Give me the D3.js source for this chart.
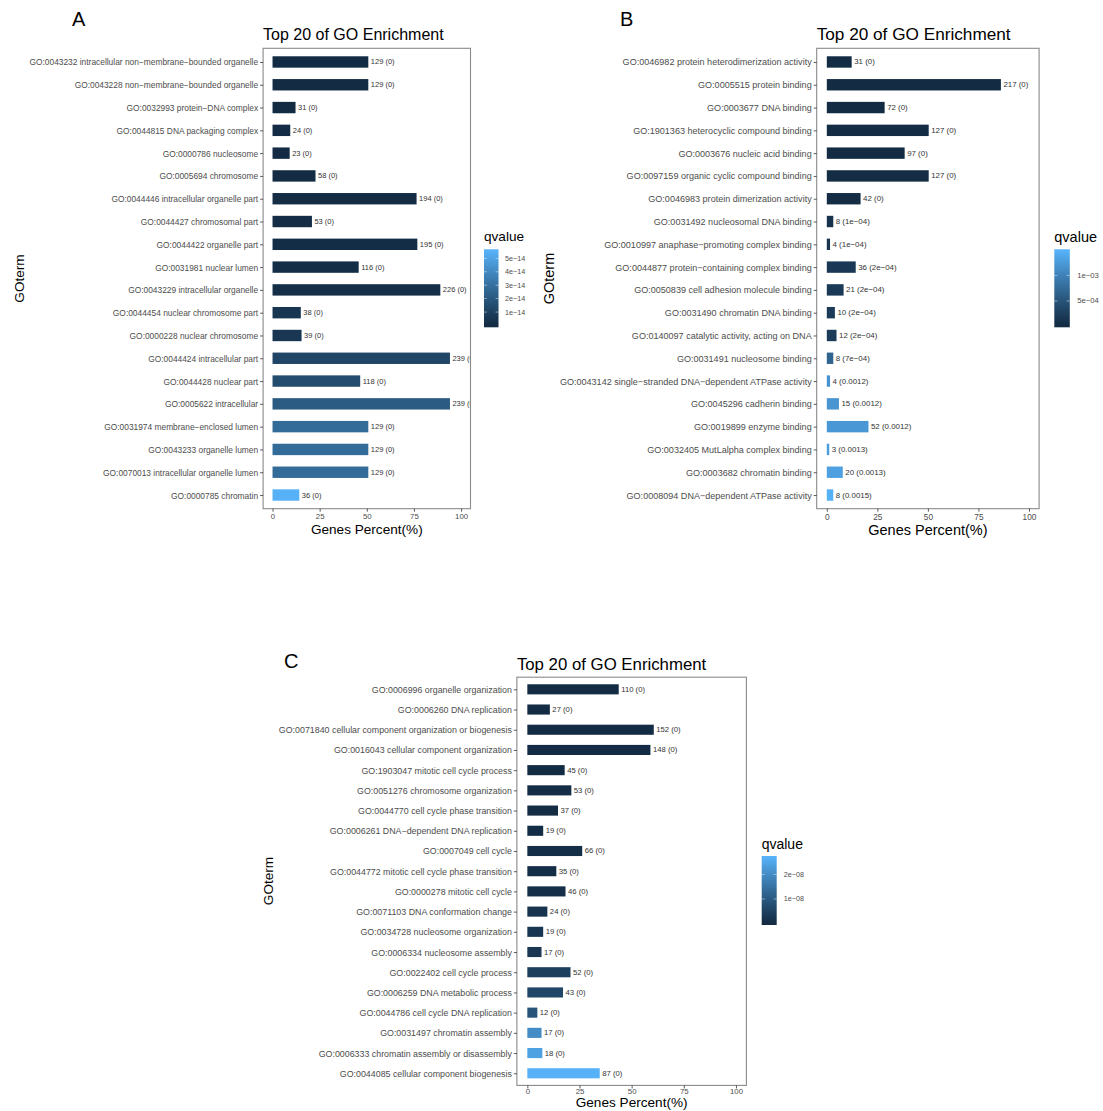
<!DOCTYPE html>
<html><head><meta charset="utf-8">
<script src="https://cdn.jsdelivr.net/npm/d3@7"></script>
<style>
body{margin:0;background:#fff}
svg{display:block}
text{font-family:"Liberation Sans",Arial,Helvetica,sans-serif}
</style>
</head><body>
<svg id="chart" width="1103" height="1111"></svg>
<script>
// ---------------- DATA ----------------
const termsA = [
 "GO:0043232 intracellular non\u2212membrane\u2212bounded organelle",
 "GO:0043228 non\u2212membrane\u2212bounded organelle",
 "GO:0032993 protein\u2212DNA complex",
 "GO:0044815 DNA packaging complex",
 "GO:0000786 nucleosome",
 "GO:0005694 chromosome",
 "GO:0044446 intracellular organelle part",
 "GO:0044427 chromosomal part",
 "GO:0044422 organelle part",
 "GO:0031981 nuclear lumen",
 "GO:0043229 intracellular organelle",
 "GO:0044454 nuclear chromosome part",
 "GO:0000228 nuclear chromosome",
 "GO:0044424 intracellular part",
 "GO:0044428 nuclear part",
 "GO:0005622 intracellular",
 "GO:0031974 membrane\u2212enclosed lumen",
 "GO:0043233 organelle lumen",
 "GO:0070013 intracellular organelle lumen",
 "GO:0000785 chromatin"
];
const countsA  = [129,129,31,24,23,58,194,53,195,116,226,38,39,239,118,239,129,129,129,36];
const percentA = [50.8,50.8,12.2,9.4,9.1,22.8,76.4,20.9,76.8,45.7,89.0,15.0,15.4,94.1,46.5,94.1,50.8,50.8,50.8,14.2];
const qvalueA  = [0.01e-14,0.01e-14,0.02e-14,0.03e-14,0.04e-14,0.05e-14,0.06e-14,0.08e-14,0.1e-14,0.15e-14,0.2e-14,0.5e-14,0.55e-14,1.2e-14,1.5e-14,2.1e-14,2.8e-14,2.8e-14,2.8e-14,5.53e-14];
const qlabelA  = ["0","0","0","0","0","0","0","0","0","0","0","0","0","0","0","0","0","0","0","0"];
const legendTicksA  = [1e-14,2e-14,3e-14,4e-14,5e-14];
const legendLabelsA = ["1e\u221214","2e\u221214","3e\u221214","4e\u221214","5e\u221214"];

const termsB = [
 "GO:0046982 protein heterodimerization activity",
 "GO:0005515 protein binding",
 "GO:0003677 DNA binding",
 "GO:1901363 heterocyclic compound binding",
 "GO:0003676 nucleic acid binding",
 "GO:0097159 organic cyclic compound binding",
 "GO:0046983 protein dimerization activity",
 "GO:0031492 nucleosomal DNA binding",
 "GO:0010997 anaphase\u2212promoting complex binding",
 "GO:0044877 protein\u2212containing complex binding",
 "GO:0050839 cell adhesion molecule binding",
 "GO:0031490 chromatin DNA binding",
 "GO:0140097 catalytic activity, acting on DNA",
 "GO:0031491 nucleosome binding",
 "GO:0043142 single\u2212stranded DNA\u2212dependent ATPase activity",
 "GO:0045296 cadherin binding",
 "GO:0019899 enzyme binding",
 "GO:0032405 MutLalpha complex binding",
 "GO:0003682 chromatin binding",
 "GO:0008094 DNA\u2212dependent ATPase activity"
];
const countsB  = [31,217,72,127,97,127,42,8,4,36,21,10,12,8,4,15,52,3,20,8];
const percentB = [12.3,86.1,28.6,50.4,38.5,50.4,16.7,3.2,1.6,14.3,8.3,4.0,4.8,3.2,1.6,6.0,20.6,1.2,7.9,3.2];
const qvalueB  = [0.00002,0.00002,0.00003,0.00003,0.00003,0.00004,0.00004,0.00011,0.00012,0.00018,0.00019,0.00021,0.00022,0.00068,0.00118,0.0012,0.00122,0.00128,0.00131,0.00148];
const qlabelB  = ["0","0","0","0","0","0","0","1e\u221204","1e\u221204","2e\u221204","2e\u221204","2e\u221204","2e\u221204","7e\u221204","0.0012","0.0012","0.0012","0.0013","0.0013","0.0015"];
const legendTicksB  = [5e-4,1e-3];
const legendLabelsB = ["5e\u221204","1e\u221203"];

const termsC = [
 "GO:0006996 organelle organization",
 "GO:0006260 DNA replication",
 "GO:0071840 cellular component organization or biogenesis",
 "GO:0016043 cellular component organization",
 "GO:1903047 mitotic cell cycle process",
 "GO:0051276 chromosome organization",
 "GO:0044770 cell cycle phase transition",
 "GO:0006261 DNA\u2212dependent DNA replication",
 "GO:0007049 cell cycle",
 "GO:0044772 mitotic cell cycle phase transition",
 "GO:0000278 mitotic cell cycle",
 "GO:0071103 DNA conformation change",
 "GO:0034728 nucleosome organization",
 "GO:0006334 nucleosome assembly",
 "GO:0022402 cell cycle process",
 "GO:0006259 DNA metabolic process",
 "GO:0044786 cell cycle DNA replication",
 "GO:0031497 chromatin assembly",
 "GO:0006333 chromatin assembly or disassembly",
 "GO:0044085 cellular component biogenesis"
];
const countsC  = [110,27,152,148,45,53,37,19,66,35,46,24,19,17,52,43,12,17,18,87];
const percentC = [43.8,10.8,60.6,59.0,17.9,21.1,14.7,7.6,26.3,13.9,18.3,9.6,7.6,6.8,20.7,17.1,4.8,6.8,7.2,34.7];
const qvalueC  = [0.01e-8,0.01e-8,0.02e-8,0.02e-8,0.03e-8,0.04e-8,0.05e-8,0.06e-8,0.07e-8,0.08e-8,0.1e-8,0.2e-8,0.25e-8,0.3e-8,0.45e-8,0.6e-8,0.9e-8,2.0e-8,2.4e-8,2.68e-8];
const qlabelC  = ["0","0","0","0","0","0","0","0","0","0","0","0","0","0","0","0","0","0","0","0"];
const legendTicksC  = [1e-8,2e-8];
const legendLabelsC = ["1e\u221208","2e\u221208"];

const xTicks = [0,25,50,75,100];
const xTickLabels = ["0","25","50","75","100"];

// ---------------- DRAW ----------------
const svg = d3.select("#chart");
const LOW = "#132B43", HIGH = "#56B1F7";

function drawPanel(p) {
  const g = svg.append("g");
  const x = d3.scaleLinear().domain([-5,105]).range([p.left, p.right]);
  const y = d3.scalePoint().domain(p.terms).range([p.top, p.bottom]).padding(0.6);
  const bh = y.step()*0.5;
  const color = d3.scaleLinear().domain(d3.extent(p.q)).range([LOW, HIGH]).interpolate(d3.interpolateLab);

  const rows = p.terms.map((t,i)=>({t, c:p.counts[i], pct:p.pct[i], q:p.q[i], ql:p.ql[i]}));

  g.append("rect").attr("x",p.left).attr("y",p.top).attr("width",p.right-p.left).attr("height",p.bottom-p.top)
    .attr("fill","#fff");

  const clipId = "clip"+p.id;
  svg.append("clipPath").attr("id",clipId).append("rect")
    .attr("x",p.left).attr("y",p.top).attr("width",p.right-p.left).attr("height",p.bottom-p.top);
  const inner = g.append("g").attr("clip-path",`url(#${clipId})`);

  inner.selectAll("rect.bar").data(rows).join("rect").attr("class","bar")
    .attr("x", x(0)).attr("y", d=>y(d.t)-bh/2)
    .attr("width", d=>x(d.pct)-x(0)).attr("height", bh)
    .attr("fill", d=>color(d.q));

  inner.selectAll("text.lab").data(rows).join("text").attr("class","lab")
    .attr("x", d=>x(d.pct)+2.5).attr("y", d=>y(d.t))
    .attr("dominant-baseline","central")
    .attr("font-size", p.barFont).attr("fill","#333")
    .text(d=>`${d.c} (${d.ql})`);

  g.append("rect").attr("x",p.left).attr("y",p.top).attr("width",p.right-p.left).attr("height",p.bottom-p.top)
    .attr("fill","none").attr("stroke","#8a8a8a").attr("stroke-width",1.1);

  const ya = g.append("g").attr("transform",`translate(${p.left},0)`)
    .call(d3.axisLeft(y).tickSize(3).tickPadding(2));
  ya.select(".domain").remove();
  ya.selectAll(".tick line").attr("stroke","#333").attr("stroke-width",0.8);
  ya.selectAll(".tick text").attr("font-size",p.yFont).attr("fill","#4d4d4d")
    .attr("font-family","Liberation Sans, Arial, sans-serif").attr("dy",null).attr("dominant-baseline","central");

  const xa = g.append("g").attr("transform",`translate(0,${p.bottom})`)
    .call(d3.axisBottom(x).tickValues(xTicks).tickFormat((d,i)=>xTickLabels[i]).tickSize(3).tickPadding(2));
  xa.select(".domain").remove();
  xa.selectAll(".tick line").attr("stroke","#333").attr("stroke-width",0.8);
  xa.selectAll(".tick text").attr("font-size",p.xFont).attr("fill","#4d4d4d")
    .attr("font-family","Liberation Sans, Arial, sans-serif").attr("dy",null)
    .attr("y", p.xTickY - p.bottom).attr("dominant-baseline","central");

  g.append("text").attr("x",p.left).attr("y",p.titleY).attr("dominant-baseline","central")
    .attr("font-size",p.titleFont).attr("fill","#000").text("Top 20 of GO Enrichment");
  g.append("text").attr("x",(p.left+p.right)/2).attr("y",p.xTitleY).attr("text-anchor","middle")
    .attr("dominant-baseline","central").attr("font-size",p.axisFont).attr("fill","#000").text("Genes Percent(%)");
  g.append("text").attr("transform",`translate(${p.yTitleX},${p.yTitleY}) rotate(-90)`)
    .attr("text-anchor","middle").attr("dominant-baseline","central")
    .attr("font-size",p.axisFont).attr("fill","#000").text("GOterm");
  g.append("text").attr("x",p.letterX).attr("y",p.letterY).attr("dominant-baseline","central")
    .attr("font-size",20).attr("fill","#000").text(p.letter);

  const L = p.leg;
  g.append("text").attr("x",L.x).attr("y",L.titleY).attr("dominant-baseline","central")
    .attr("font-size",p.legTitleFont).attr("fill","#000").text("qvalue");
  const ext = d3.extent(p.q);
  const nbin = 20;
  const lg = svg.append("defs").append("linearGradient").attr("id","grad"+p.id)
    .attr("x1",0).attr("y1",1).attr("x2",0).attr("y2",0);
  d3.range(nbin).forEach(k=>{
    const v = ext[0] + (ext[1]-ext[0])*k/(nbin-1);
    lg.append("stop").attr("offset",(k+0.5)/nbin).attr("stop-color",color(v));
  });
  g.append("rect").attr("x",L.x).attr("y",L.top).attr("width",L.w).attr("height",L.bottom-L.top)
    .attr("fill",`url(#grad${p.id})`);
  const ly = d3.scaleLinear().domain(ext)
    .range([L.bottom-(L.bottom-L.top)*0.5/nbin, L.top+(L.bottom-L.top)*0.5/nbin]);
  p.legTicks.forEach((t,i)=>{
    const yy = ly(t);
    g.append("line").attr("x1",L.x).attr("x2",L.x+L.w/5).attr("y1",yy).attr("y2",yy).attr("stroke","#fff").attr("stroke-width",0.6).attr("opacity",0.8);
    g.append("line").attr("x1",L.x+L.w*4/5).attr("x2",L.x+L.w).attr("y1",yy).attr("y2",yy).attr("stroke","#fff").attr("stroke-width",0.6).attr("opacity",0.8);
    g.append("text").attr("x",L.labelX).attr("y",yy).attr("dominant-baseline","central")
      .attr("font-size",p.legFont).attr("fill","#4d4d4d").text(p.legLabels[i]);
  });
}

drawPanel({id:"A", terms:termsA, counts:countsA, pct:percentA, q:qvalueA, ql:qlabelA,
  legTicks:legendTicksA, legLabels:legendLabelsA,
  left:263.1, right:470.5, top:48.3, bottom:508.7,
  xTickY:516.7, xTitleY:529.5, titleY:34, yTitleX:19, yTitleY:278.5,
  letter:"A", letterX:72, letterY:19,
  yFont:8.4, xFont:7.8, barFont:7.5, titleFont:16, axisFont:13.6, legTitleFont:13.6, legFont:7.2,
  leg:{x:484, w:14.5, top:249.3, bottom:327.3, titleY:236, labelX:505}});

drawPanel({id:"B", terms:termsB, counts:countsB, pct:percentB, q:qvalueB, ql:qlabelB,
  legTicks:legendTicksB, legLabels:legendLabelsB,
  left:816.7, right:1039.1, top:48.3, bottom:508.7,
  xTickY:516.7, xTitleY:529.5, titleY:34, yTitleX:549, yTitleY:278.5,
  letter:"B", letterX:620, letterY:19,
  yFont:9.05, xFont:8.3, barFont:7.9, titleFont:17.2, axisFont:14.5, legTitleFont:14.5, legFont:7.7,
  leg:{x:1054.3, w:15.5, top:249.3, bottom:327.3, titleY:236.5, labelX:1077.3}});

drawPanel({id:"C", terms:termsC, counts:countsC, pct:percentC, q:qvalueC, ql:qlabelC,
  legTicks:legendTicksC, legLabels:legendLabelsC,
  left:516.9, right:746.4, top:677.2, bottom:1085.4,
  xTickY:1092, xTitleY:1102.8, titleY:664, yTitleX:268, yTitleY:881,
  letter:"C", letterX:284, letterY:661,
  yFont:8.85, xFont:7.8, barFont:7.7, titleFont:16.8, axisFont:13.6, legTitleFont:14, legFont:7.2,
  leg:{x:761.7, w:15, top:856, bottom:925, titleY:844, labelX:783.7}});
</script>
</body></html>
